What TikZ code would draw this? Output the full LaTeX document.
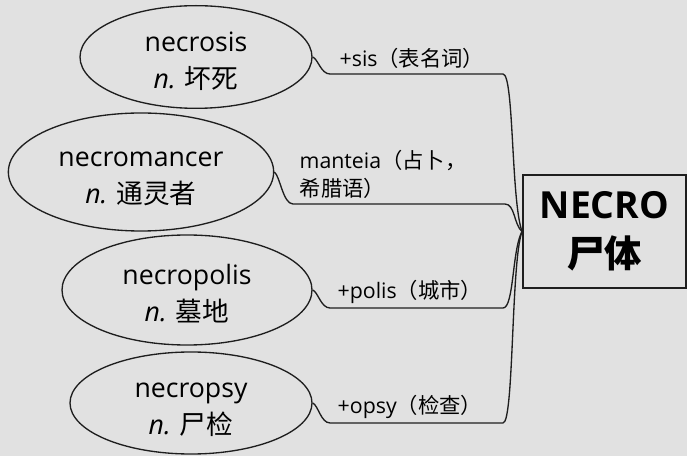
\documentclass[tikz,border=0pt]{standalone}
\usepackage{fontspec}
\setmainfont{Open Sans}
\newfontfamily\cjk{Noto Sans CJK SC}
\usetikzlibrary{shapes.geometric}
\definecolor{paper}{RGB}{225,225,225}
\definecolor{ink}{RGB}{30,30,30}
\newcommand{\entry}[2]{\rule{0pt}{21pt}#1\\\textit{n.} {\cjk #2}}
\tikzset{every picture/.style={line width=1pt}}
\tikzset{
  word/.style={ellipse, draw=ink, inner sep=0pt, align=center, font=\fontsize{20}{27.75}\selectfont},
  affix/.style={anchor=west, inner sep=0.75pt, align=left, font=\fontsize{16}{21}\selectfont},
  root/.style={draw=ink, line width=1.3pt, anchor=west, inner sep=0pt, align=center, font=\fontsize{28}{37}\selectfont},
  link/.style={draw=ink, line width=1pt},
}

\begin{document}
\begin{tikzpicture}[x=0.75pt,y=0.75pt,yscale=-1,xscale=1]
\useasboundingbox (0,0) rectangle (687,456);
\fill [paper] (0,0) rectangle (687,456);

%Shape: Ellipse
\draw (196,57) node [word, minimum width=174pt, minimum height=77pt] (necrosis) {\entry{necrosis}{坏死}};
%Shape: Ellipse
\draw (141,172) node [word, minimum width=199pt, minimum height=88.5pt] (necromancer) {\entry{necromancer}{通灵者}};
%Shape: Ellipse
\draw (187,290) node [word, minimum width=187.5pt, minimum height=82.5pt] (necropolis) {\entry{necropolis}{墓地}};
%Shape: Ellipse
\draw (191,403) node [word, minimum width=181.5pt, minimum height=76.5pt] (necropsy) {\entry{necropsy}{尸检}};

%Shape: Rectangle
\draw (522,231.5) node [root, minimum width=122.25pt, minimum height=84.75pt] (necro) {\textbf{NECRO}\\{\cjk\bfseries 尸体}};

%Curve Lines
\draw [link] (necrosis.east) .. controls (318,59) and (321,74) .. (330,74) -- (503,74) .. controls (514,74) and (511,200) .. (necro.west);
%Curve Lines
\draw [link] (necromancer.east) .. controls (280,176) and (283,204) .. (293,204) -- (505,204) .. controls (515,204) and (514,225) .. (necro.west);
%Curve Lines
\draw [link] (necropolis.east) .. controls (318,292) and (321,308) .. (330,308) -- (503,308) .. controls (514,308) and (512,250) .. (necro.west);
%Curve Lines
\draw [link] (necropsy.east) .. controls (318,405) and (321,423) .. (330,423) -- (503,423) .. controls (514,423) and (511,262) .. (necro.west);

% Text Node
\draw (338,58) node [affix] (sis) {+sis{\cjk （表名词）}};
% Text Node
\draw (298,174) node [affix] (manteia) {manteia{\cjk （占卜，}\\{\cjk 希腊语）}};
% Text Node
\draw (336,292) node [affix] (polis) {+polis{\cjk （城市）}};
% Text Node
\draw (336,407) node [affix] (opsy) {+opsy{\cjk （检查）}};

\end{tikzpicture}
\end{document}
